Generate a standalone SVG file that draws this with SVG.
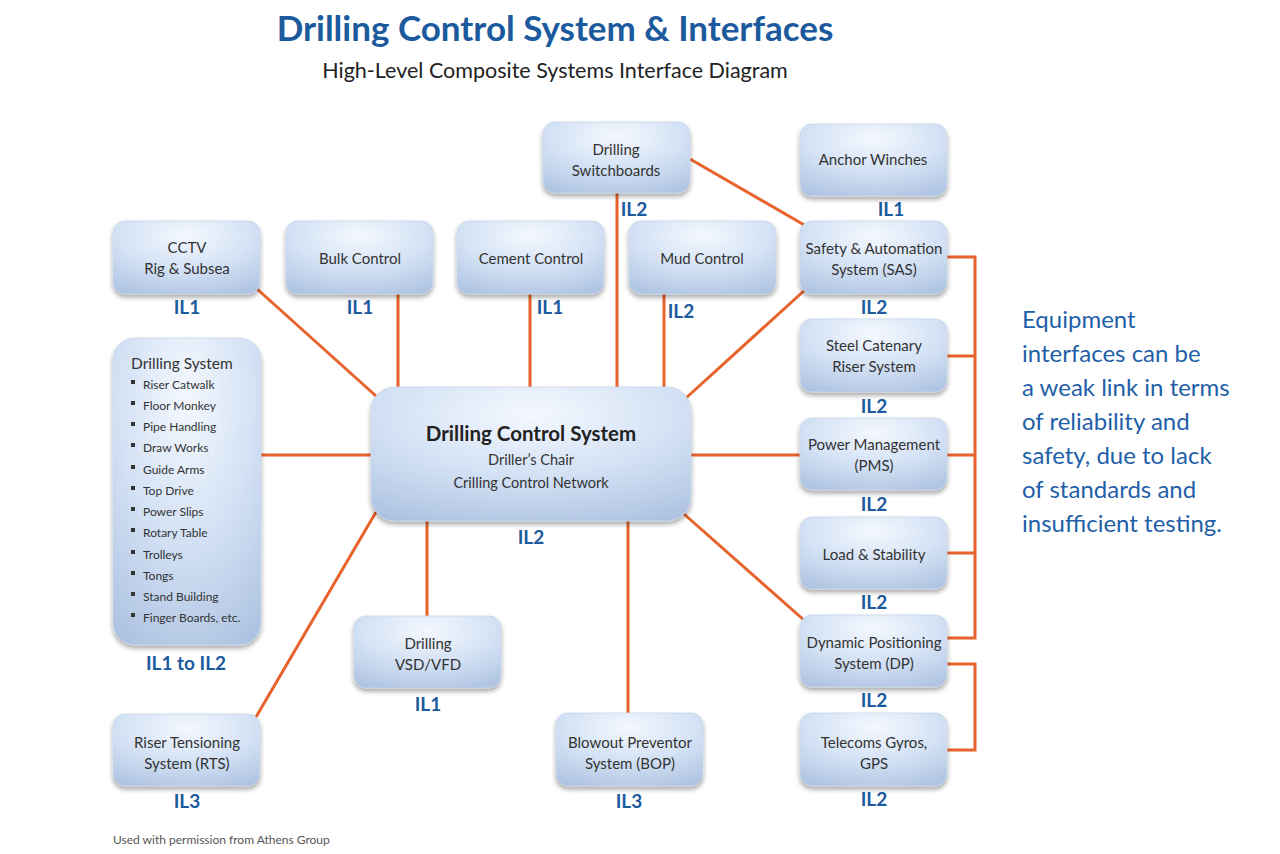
<svg xmlns="http://www.w3.org/2000/svg" width="1280" height="854" viewBox="0 0 1280 854">
<defs>
<radialGradient id="g" cx="0.5" cy="0.2" r="0.9">
<stop offset="0" stop-color="#f4f8fe"/>
<stop offset="0.5" stop-color="#d4e2f5"/>
<stop offset="1" stop-color="#adc2e1"/>
</radialGradient>
<filter id="sh" x="-10%" y="-10%" width="120%" height="130%">
<feGaussianBlur in="SourceAlpha" stdDeviation="2.5"/>
<feOffset dx="0" dy="3" result="b"/>
<feComponentTransfer><feFuncA type="linear" slope="0.35"/></feComponentTransfer>
<feMerge><feMergeNode/><feMergeNode in="SourceGraphic"/></feMerge>
</filter>
</defs>
<style>
.box{fill:url(#g);filter:url(#sh);stroke:#c9d7ea;stroke-width:0.8}
.t{font-family:Lato,"Liberation Sans",sans-serif;font-size:15px;fill:#333;text-anchor:middle}
.il{font-family:Lato,"Liberation Sans",sans-serif;font-size:19px;font-weight:bold;fill:#1c5a9e;text-anchor:middle}
.c{stroke:#e8622c;stroke-width:3;fill:none}
.li{font-family:Lato,"Liberation Sans",sans-serif;font-size:12px;fill:#333}
.side{font-family:Lato,"Liberation Sans",sans-serif;font-size:24px;fill:#1f5fa8}
</style>
<rect width="1280" height="854" fill="#fff"/>
<text x="555" y="41" font-family="Lato,'Liberation Sans',sans-serif" font-size="35" font-weight="bold" fill="#1c5a9e" text-anchor="middle">Drilling Control System &amp; Interfaces</text>
<text x="555" y="78" font-family="Lato,'Liberation Sans',sans-serif" font-size="21.5" fill="#222" text-anchor="middle">High-Level Composite Systems Interface Diagram</text>

<g id="connectors">
<line class="c" x1="256" y1="288" x2="376" y2="396"/>
<line class="c" x1="398" y1="294" x2="398" y2="388"/>
<line class="c" x1="530" y1="294" x2="530" y2="388"/>
<line class="c" x1="664" y1="294" x2="664" y2="388"/>
<line class="c" x1="617" y1="193" x2="617" y2="388"/>
<line class="c" x1="690" y1="159" x2="806" y2="226"/>
<line class="c" x1="806" y1="289" x2="686" y2="398"/>
<line class="c" x1="261" y1="455" x2="371" y2="455"/>
<line class="c" x1="691" y1="455" x2="800" y2="455"/>
<line class="c" x1="684" y1="514" x2="805" y2="621"/>
<line class="c" x1="427" y1="521" x2="427" y2="616"/>
<line class="c" x1="628" y1="521" x2="628" y2="713"/>
<line class="c" x1="376" y1="512" x2="256" y2="717"/>
<polyline class="c" points="947,257 975,257 975,638 947,638"/>
<line class="c" x1="947" y1="356" x2="975" y2="356"/>
<line class="c" x1="947" y1="455" x2="975" y2="455"/>
<line class="c" x1="947" y1="553" x2="975" y2="553"/>
<polyline class="c" points="947,664 975,664 975,750 947,750"/>
</g>

<g id="switchboards"><rect class="box" x="543" y="122" width="147" height="71" rx="12"/><text class="t" x="616" y="155">Drilling</text><text class="t" x="616" y="176">Switchboards</text><text class="il" x="634" y="216">IL2</text></g>
<g id="anchor"><rect class="box" x="800" y="124" width="147" height="72" rx="12"/><text class="t" x="873" y="165">Anchor Winches</text><text class="il" x="891" y="216">IL1</text></g>
<g id="cctv"><rect class="box" x="113" y="221" width="147" height="73" rx="12"/><text class="t" x="187" y="253">CCTV</text><text class="t" x="187" y="274">Rig &amp; Subsea</text><text class="il" x="187" y="314">IL1</text></g>
<g id="bulk"><rect class="box" x="286" y="221" width="147" height="73" rx="12"/><text class="t" x="360" y="264">Bulk Control</text><text class="il" x="360" y="314">IL1</text></g>
<g id="cement"><rect class="box" x="457" y="221" width="147" height="73" rx="12"/><text class="t" x="531" y="264">Cement Control</text><text class="il" x="550" y="314">IL1</text></g>
<g id="mud"><rect class="box" x="629" y="221" width="147" height="73" rx="12"/><text class="t" x="702" y="264">Mud Control</text><text class="il" x="681" y="318">IL2</text></g>
<g id="sas"><rect class="box" x="800" y="221" width="147" height="73" rx="12"/><text class="t" x="874" y="254">Safety &amp; Automation</text><text class="t" x="874" y="275">System (SAS)</text><text class="il" x="874" y="314">IL2</text></g>
<g id="steel"><rect class="box" x="800" y="319" width="147" height="73" rx="12"/><text class="t" x="874" y="351">Steel Catenary</text><text class="t" x="874" y="372">Riser System</text><text class="il" x="874" y="413">IL2</text></g>
<g id="pms"><rect class="box" x="800" y="418" width="147" height="72" rx="12"/><text class="t" x="874" y="450">Power Management</text><text class="t" x="874" y="471">(PMS)</text><text class="il" x="874" y="511">IL2</text></g>
<g id="load"><rect class="box" x="800" y="517" width="147" height="72" rx="12"/><text class="t" x="874" y="560">Load &amp; Stability</text><text class="il" x="874" y="609">IL2</text></g>
<g id="dp"><rect class="box" x="800" y="615" width="147" height="72" rx="12"/><text class="t" x="874" y="648">Dynamic Positioning</text><text class="t" x="874" y="669">System (DP)</text><text class="il" x="874" y="707">IL2</text></g>
<g id="telecoms"><rect class="box" x="800" y="713" width="147" height="73" rx="12"/><text class="t" x="874" y="748">Telecoms Gyros,</text><text class="t" x="874" y="769">GPS</text><text class="il" x="874" y="806">IL2</text></g>

<g id="drillingsystem"><rect class="box" x="113" y="338" width="148" height="307" rx="22"/>
<text x="131" y="369" font-family="Lato,'Liberation Sans',sans-serif" font-size="15.5" fill="#333">Drilling System</text>
<g fill="#333">
<rect x="131" y="380" width="4" height="4"/><rect x="131" y="401" width="4" height="4"/><rect x="131" y="422" width="4" height="4"/><rect x="131" y="443" width="4" height="4"/><rect x="131" y="465" width="4" height="4"/><rect x="131" y="486" width="4" height="4"/><rect x="131" y="507" width="4" height="4"/><rect x="131" y="528" width="4" height="4"/><rect x="131" y="550" width="4" height="4"/><rect x="131" y="571" width="4" height="4"/><rect x="131" y="592" width="4" height="4"/><rect x="131" y="613" width="4" height="4"/>
</g>
<text class="li" x="143" y="389">Riser Catwalk</text>
<text class="li" x="143" y="410">Floor Monkey</text>
<text class="li" x="143" y="431">Pipe Handling</text>
<text class="li" x="143" y="452">Draw Works</text>
<text class="li" x="143" y="474">Guide Arms</text>
<text class="li" x="143" y="495">Top Drive</text>
<text class="li" x="143" y="516">Power Slips</text>
<text class="li" x="143" y="537">Rotary Table</text>
<text class="li" x="143" y="559">Trolleys</text>
<text class="li" x="143" y="580">Tongs</text>
<text class="li" x="143" y="601">Stand Building</text>
<text class="li" x="143" y="622">Finger Boards, etc.</text>
<text class="il" x="186" y="670">IL1 to IL2</text></g>

<g id="dcs"><rect class="box" x="371" y="387" width="320" height="134" rx="24"/>
<text class="t" x="531" y="441" style="font-size:20.5px;font-weight:bold;fill:#222">Drilling Control System</text>
<text class="t" x="531" y="465" style="font-size:14.5px">Driller’s Chair</text>
<text class="t" x="531" y="488" style="font-size:14.5px">Crilling Control Network</text>
<text class="il" x="531" y="544">IL2</text></g>

<g id="vsd"><rect class="box" x="354" y="616" width="147" height="72" rx="12"/><text class="t" x="428" y="649">Drilling</text><text class="t" x="428" y="670">VSD/VFD</text><text class="il" x="428" y="711">IL1</text></g>
<g id="bop"><rect class="box" x="556" y="713" width="147" height="73" rx="12"/><text class="t" x="630" y="748">Blowout Preventor</text><text class="t" x="630" y="769">System (BOP)</text><text class="il" x="629" y="808">IL3</text></g>
<g id="rts"><rect class="box" x="113" y="714" width="147" height="72" rx="12"/><text class="t" x="187" y="748">Riser Tensioning</text><text class="t" x="187" y="769">System (RTS)</text><text class="il" x="187" y="808">IL3</text></g>

<g id="sidetext">
<text class="side" x="1022" y="328">Equipment</text>
<text class="side" x="1022" y="362">interfaces can be</text>
<text class="side" x="1022" y="396">a weak link in terms</text>
<text class="side" x="1022" y="430">of reliability and</text>
<text class="side" x="1022" y="464">safety, due to lack</text>
<text class="side" x="1022" y="498">of standards and</text>
<text class="side" x="1022" y="532">insufficient testing.</text>
</g>
<text x="113" y="844" font-family="Lato,'Liberation Sans',sans-serif" font-size="12" fill="#555">Used with permission from Athens Group</text>
</svg>
